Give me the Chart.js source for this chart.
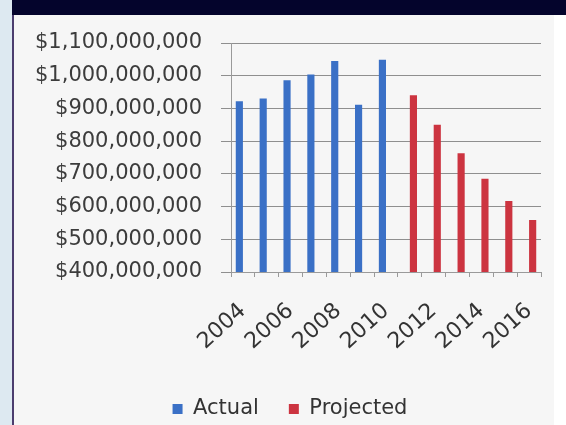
<!DOCTYPE html>
<html>
<head>
<meta charset="utf-8">
<script src="https://cdn.jsdelivr.net/npm/chart.js@4/dist/chart.umd.min.js"></script>
<style>
  html, body { margin: 0; padding: 0; width: 566px; height: 425px; overflow: hidden; background: #ffffff; }
  #strip { position: absolute; left: 0; top: 0; width: 12px; height: 425px; background: #dde9f1; }
  #edge { position: absolute; left: 12px; top: 0; width: 2px; height: 425px; background: #4b3d6e; }
  #band { position: absolute; left: 12px; top: 0; width: 554px; height: 15px; background: #04042c; }
  #panel { position: absolute; left: 14px; top: 15px; width: 540px; height: 410px; background: #f6f6f6; }
  #c { position: absolute; left: 13px; top: 15px; }
</style>
</head>
<body>
<div id="strip"></div>
<div id="edge"></div>
<div id="band"></div>
<div id="panel"></div>
<canvas id="c" width="541" height="410"></canvas>
<script>
const years = ['2004','2005','2006','2007','2008','2009','2010','2011','2012','2013','2014','2015','2016'];
const actual = [922000000, 930000000, 986000000, 1004000000, 1045000000, 911000000, 1049000000, null, null, null, null, null, null];
const projected = [null, null, null, null, null, null, null, 940000000, 850000000, 763000000, 685000000, 617000000, 559000000];
const seriesNames = ['Actual', 'Projected'];

const FONT = 'DejaVu Sans';

const legendShift = {
  id: 'legendShift',
  afterLayout(chart) {
    if (chart.legend) { chart.legend.left += 13; chart.legend.right += 13; }
  }
};

new Chart(document.getElementById('c'), {
  type: 'bar',
  data: {
    labels: years,
    datasets: [
      { label: seriesNames[0], data: actual, backgroundColor: '#3a70c6', borderWidth: 0,
        categoryPercentage: 0.6, barPercentage: 1.0 },
      { label: seriesNames[1], data: projected, backgroundColor: '#cc3440', borderWidth: 0,
        categoryPercentage: 0.6, barPercentage: 1.0 }
    ]
  },
  plugins: [legendShift],
  options: {
    responsive: false,
    animation: false,
    layout: { padding: { top: 28, right: 13, bottom: -4.5, left: 0 } },
    plugins: {
      legend: {
        position: 'bottom',
        labels: {
          font: { family: FONT, size: 21 },
          color: '#333333',
          boxWidth: 10, boxHeight: 10,
          padding: 30
        }
      },
      tooltip: { enabled: false }
    },
    scales: {
      x: {
        grid: { display: true, drawOnChartArea: false, drawTicks: true, tickLength: 5, color: '#9a9a9a', offset: true },
        border: { color: '#9a9a9a' },
        ticks: {
          autoSkip: false,
          minRotation: 42, maxRotation: 42,
          padding: 21,
          color: '#333333',
          font: { family: FONT, size: 22 },
          callback: function(v, i) { return i % 2 === 0 ? years[i] : ''; }
        },
        afterFit: function(s) { s.height = 96.5; s.paddingLeft = 0; s.paddingRight = 0; }
      },
      y: {
        min: 400000000, max: 1100000000,
        grid: { color: '#8f8f8f', tickLength: 10 },
        border: { color: '#9a9a9a' },
        ticks: {
          stepSize: 100000000,
          padding: 19,
          color: '#3c3c3c',
          font: { family: FONT, size: 21 },
          callback: function(v) { return '$' + Number(v).toLocaleString('en-US'); }
        },
        afterFit: function(s) { s.width = 218; s.paddingTop = 0; s.paddingBottom = 0; }
      }
    }
  }
});
</script>
</body>
</html>
